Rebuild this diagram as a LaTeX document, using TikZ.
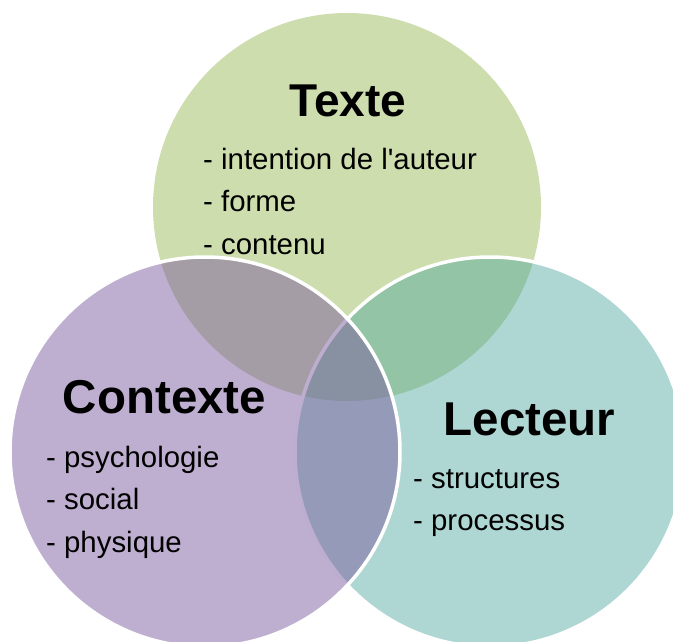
\documentclass[tikz,border=0pt]{standalone}
\usepackage{fontspec}
\newfontfamily\arial{Liberation Sans}[Ligatures=TeXOff]
\definecolor{texteG}{RGB}{205,221,173}
\definecolor{lecteurT}{RGB}{75,166,157}
\definecolor{contexteP}{RGB}{125,95,161}
\begin{document}
\begin{tikzpicture}[x=1pt,y=-1pt,
  title/.style={font=\arial\bfseries\fontsize{47.5}{56}\selectfont, inner sep=0pt, anchor=base, text=black},
  item/.style={font=\arial\fontsize{29.4}{35}\selectfont, inner sep=0pt, anchor=base west, text=black},
  ring/.style={draw=white, line width=3.5pt}]
\useasboundingbox (0,0) rectangle (673,642);
% circles
\fill[texteG] (347,207) circle (194pt);
\path[ring, fill=lecteurT, fill opacity=0.45] (490,452) circle (195pt);
\path[ring, fill=contexteP, fill opacity=0.5] (205,452) circle (195pt);
% Texte
\node[title, font=\arial\bfseries\fontsize{46}{55}\selectfont] (texte) at (348,117) {Texte};
\node[item] (t1) at (203,169) {- intention de l'auteur};
\node[item] (t2) at (203,211.5) {- forme};
\node[item] (t3) at (203,254) {- contenu};
% Contexte
\node[title] (contexte) at (164.5,413) {Contexte};
\node[item] (c1) at (46,467) {- psychologie};
\node[item] (c2) at (46,509.5) {- social};
\node[item] (c3) at (46,552) {- physique};
% Lecteur
\node[title] (lecteur) at (529.5,435) {Lecteur};
\node[item] (l1) at (413,488) {- structures};
\node[item] (l2) at (413,530) {- processus};
\end{tikzpicture}
\end{document}
